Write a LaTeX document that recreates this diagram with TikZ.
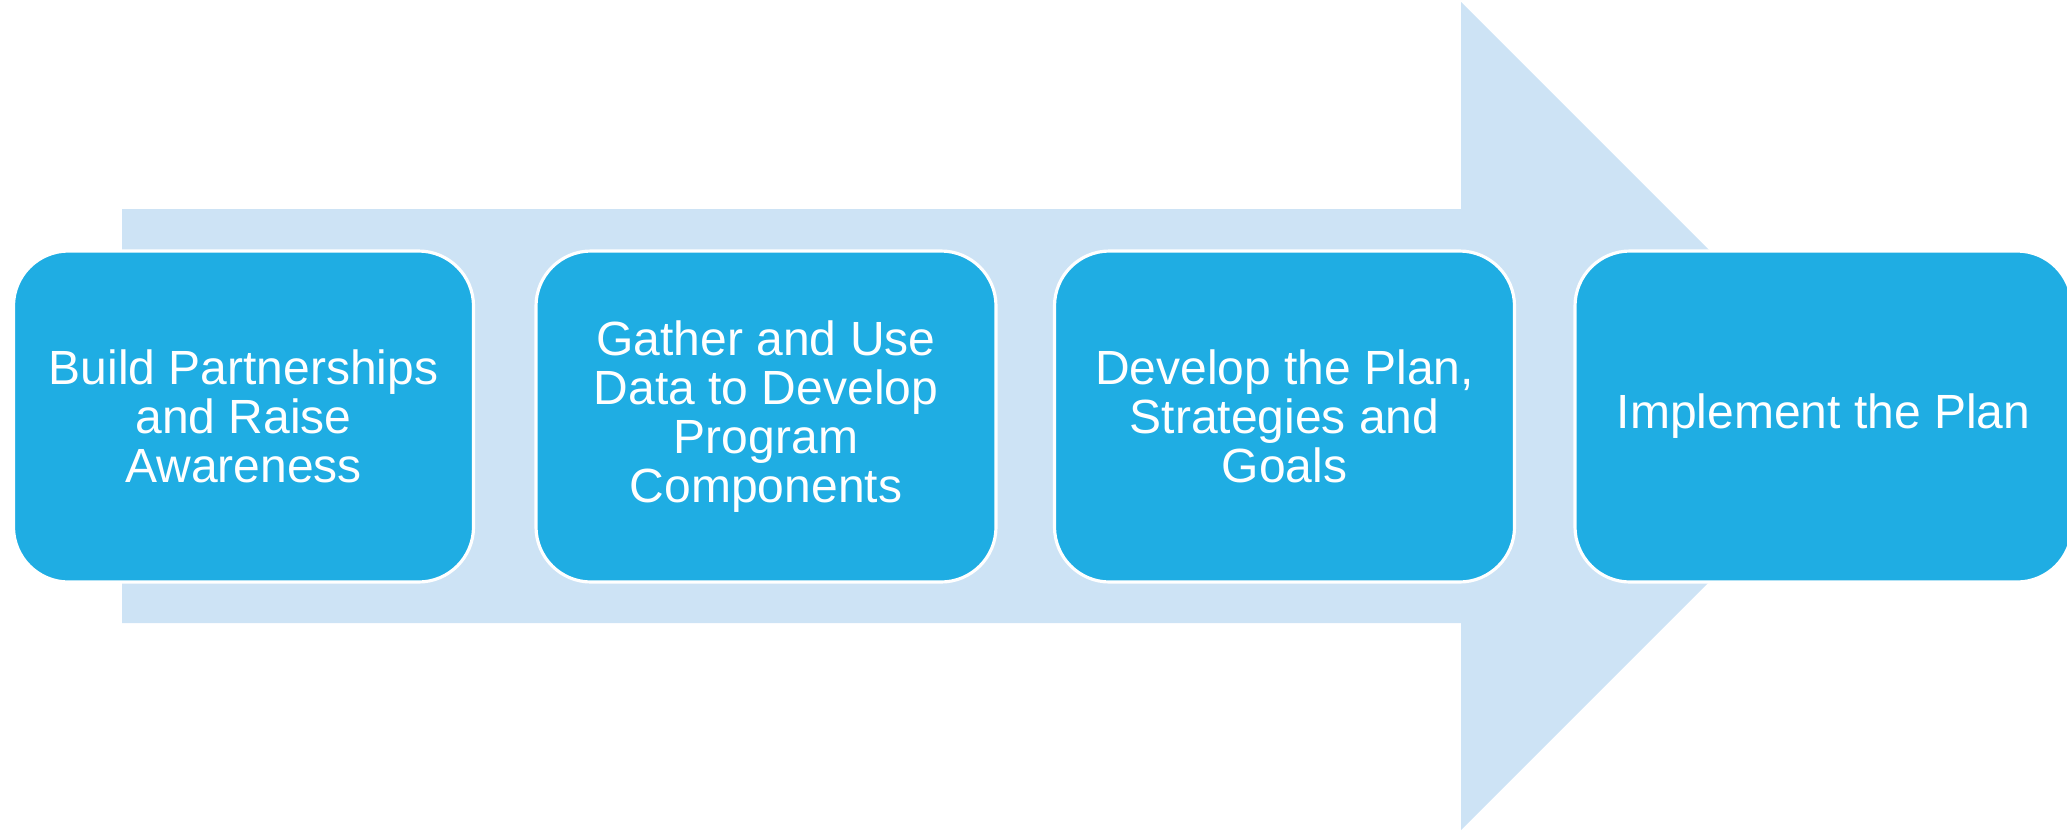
\documentclass[tikz,border=0pt]{standalone}
\usepackage{fontspec}
\setmainfont{Liberation Sans}
\definecolor{arrowblue}{RGB}{205,227,245}
\definecolor{boxblue}{RGB}{31,173,227}
\tikzset{
	stepbox/.style={draw=white, line width=0.9pt, fill=boxblue, rounded corners=0.55cm,
		minimum width=4.6cm, minimum height=3.31cm, text=white, align=center,
		font=\fontsize{13.66}{13.94}\selectfont}
}
\begin{document}
\begin{tikzpicture}
				\useasboundingbox (0,0) rectangle (20.67,8.30);

				\fill[arrowblue] (1.22,2.07) -- (1.22,6.21) -- (14.61,6.21) -- (14.61,8.28) -- (18.75,4.14) -- (14.61,0) -- (14.61,2.07) -- cycle;

				\node[stepbox] (build) at (2.435,4.135) {Build Partnerships\\and Raise\\Awareness};
				\node[stepbox] (gather) at (7.66,4.135) {Gather and Use\\Data to Develop\\Program\\Components};
				\node[stepbox] (develop) at (12.845,4.135) {Develop the Plan,\\Strategies and\\Goals};
				\node[stepbox, minimum width=4.97cm] (implement) at (18.235,4.135) {Implement the Plan};
			\end{tikzpicture}
\end{document}
